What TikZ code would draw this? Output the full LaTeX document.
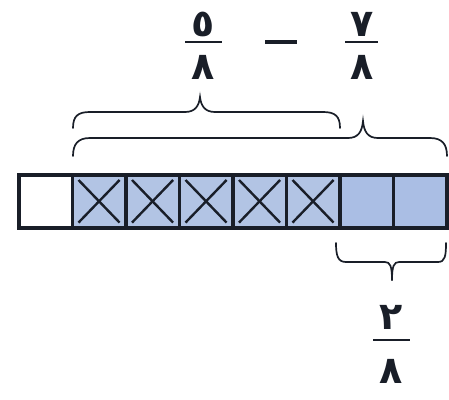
\documentclass[tikz,border=0pt]{standalone}
\usepackage{fontspec}
\newfontfamily\arabicfont[Script=Arabic]{DejaVu Sans}
\definecolor{cellblue}{RGB}{170,190,228}
\definecolor{xblue}{RGB}{178,196,228}
\definecolor{ink}{RGB}{25,30,40}
\begin{document}
\begin{tikzpicture}[x=1pt,y=-1pt,
  cellbox/.style={draw=ink,line width=3.6pt,minimum width=53.5pt,minimum height=53pt,anchor=north west,inner sep=0pt},
  crossline/.style={draw=ink,line width=2.4pt},
  bracel/.style={draw=ink,line width=1.7pt,line cap=round},
  digit/.style={font=\arabicfont\bfseries\fontsize{38}{40}\selectfont,inner sep=0pt,text=ink},
  fracbar/.style={draw=ink,line width=1.8pt}]
\useasboundingbox (0,0) rectangle (449,399);
% cells
\node[cellbox,fill=white] (c1) at (17,173) {};
\foreach \i/\x in {2/70.5,3/124,4/177.5,5/231,6/284.5}{
  \node[cellbox,fill=xblue] (c\i) at (\x,173) {};
  \draw[crossline] ([shift={(8pt,-7pt)}]c\i.north west) -- ([shift={(-8pt,7pt)}]c\i.south east);
  \draw[crossline] ([shift={(-8pt,-7pt)}]c\i.north east) -- ([shift={(8pt,7pt)}]c\i.south west);
}
\foreach \i/\x in {7/338,8/391.5}{
  \node[cellbox,fill=cellblue] (c\i) at (\x,173) {};
}
% upper brace (5/8)
\draw[bracel] (73,128) .. controls (73,116) and (78,112) .. (90,112) -- (185,112) .. controls (195,112) and (199,106) .. (200,97)
  .. controls (201,106) and (205,112) .. (215,112) -- (323,112) .. controls (335,112) and (340,116) .. (340,128);
% lower brace (7/8)
\draw[bracel] (73,156) .. controls (73,144) and (78,138) .. (90,138) -- (348,138) .. controls (358,138) and (362,132) .. (363,121)
  .. controls (364,132) and (368,138) .. (378,138) -- (430,138) .. controls (442,138) and (447,144) .. (447,156);
% bottom brace (2/8)
\draw[bracel] (336,243) .. controls (336,256) and (338,262) .. (346,262) -- (385,262) .. controls (390,262) and (392,266) .. (392,280);
\draw[bracel] (392,280) .. controls (392,266) and (394,262) .. (399,262) -- (438,262) .. controls (445,262) and (446,256) .. (446,243);
% fractions
\node[digit,anchor=south] (n1) at (203,37) {٥};
\draw[fracbar] (185,42) -- (222,42);
\node[digit,anchor=north] (d1) at (203,55) {٨};
\draw[draw=ink,line width=3.5pt] (265,42) -- (297,42);
\node[digit,anchor=south] (n2) at (362,37) {٧};
\draw[fracbar] (345,42) -- (378,42);
\node[digit,anchor=north] (d2) at (362,55) {٨};
\node[digit,anchor=south] (n3) at (391,330) {٢};
\draw[fracbar] (373,340) -- (410,340);
\node[digit,anchor=north] (d3) at (391,359) {٨};
\end{tikzpicture}
\end{document}
